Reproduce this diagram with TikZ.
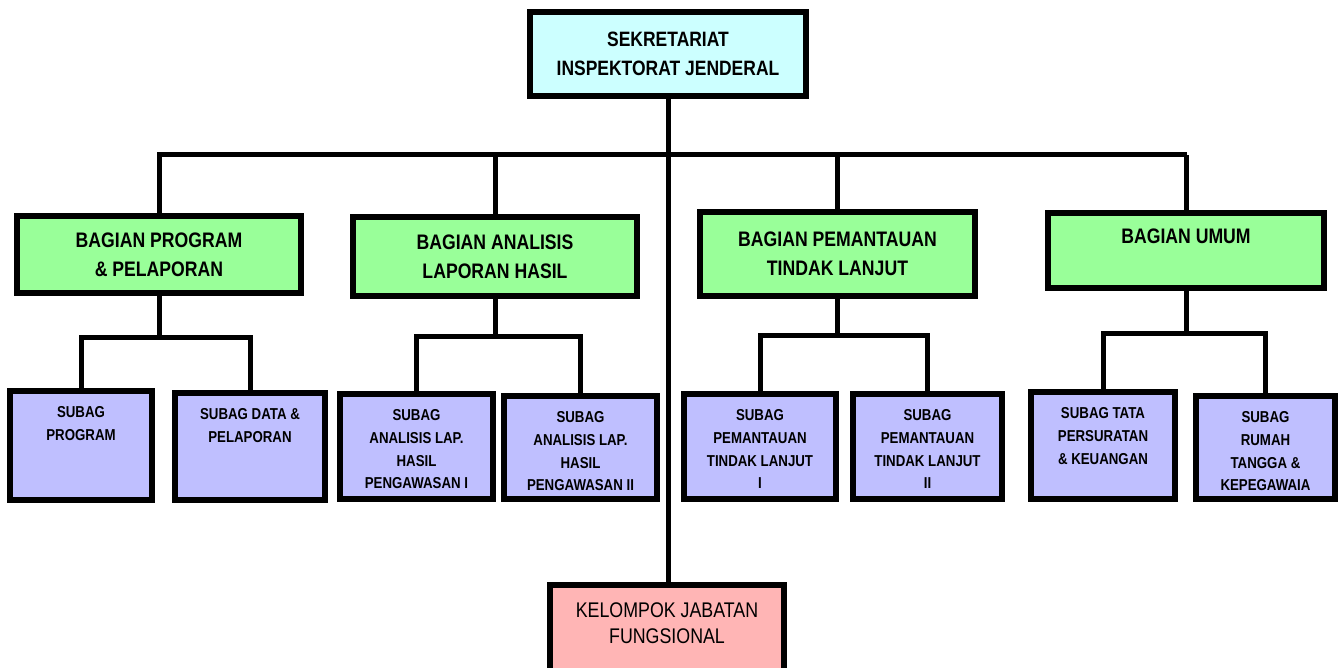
\documentclass[tikz,border=0pt]{standalone}
\usepackage{fontspec}
\setmainfont{Liberation Sans}[FakeStretch=0.84]
\usetikzlibrary{positioning}
\definecolor{topfill}{HTML}{CCFFFF}
\definecolor{bagfill}{HTML}{99FF99}
\definecolor{subfill}{HTML}{BFBFFF}
\definecolor{jabfill}{HTML}{FFB5B5}
\tikzset{
  topbox/.style = {rectangle, draw=black, fill=topfill, line width=3pt, align=center,
                   font=\fontsize{10.4}{14.5}\selectfont\bfseries, inner sep=0pt},
  bagbox/.style = {rectangle, draw=black, fill=bagfill, line width=3pt, align=center,
                   font=\fontsize{10.5}{14.5}\selectfont\bfseries, inner sep=0pt},
  subbox/.style = {rectangle, draw=black, fill=subfill, line width=3pt, inner sep=0pt},
  jabbox/.style = {rectangle, draw=black, fill=jabfill, line width=3pt, inner sep=0pt},
  subtxt/.style = {anchor=north, align=center, inner sep=0pt,
                   font=\fontsize{7.9}{11.4}\selectfont\bfseries},
  jabtxt/.style = {anchor=north, align=center, inner sep=0pt,
                   font=\fontsize{10.6}{13}\selectfont},
  wire/.style   = {line width=2.5pt, draw=black},
}
\begin{document}
\begin{tikzpicture}[x=0.5pt, y=-0.5pt]
    \useasboundingbox (0,0) rectangle (1343,668);
    \node[topbox, minimum width=138pt, minimum height=42pt] (sek) at (668,54) {SEKRETARIAT\\INSPEKTORAT JENDERAL};
    \node[jabbox, minimum width=117pt, minimum height=45pt] (jab) at (667,630) {};
    \node[jabtxt] (jabt) at ([yshift=-10pt]jab.north) {KELOMPOK JABATAN\\FUNGSIONAL};
    \draw[wire] (sek.south) -- (sek.south |- jab.north);
    \node[bagbox, minimum width=142pt,   minimum height=38.5pt] (g1) at (159,254.5)  {BAGIAN PROGRAM\\\& PELAPORAN};
    \node[bagbox, minimum width=142pt,   minimum height=39.5pt] (g2) at (495,256.5)  {BAGIAN ANALISIS\\LAPORAN HASIL};
    \node[bagbox, minimum width=137.5pt, minimum height=42pt]   (g3) at (837.5,254)  {BAGIAN PEMANTAUAN\\TINDAK LANJUT};
    \node[bagbox, minimum width=138pt,   minimum height=37.5pt] (g4) at (1186,250.5) {BAGIAN UMUM\\\phantom{X}};
    \coordinate (busL) at (157,155);
    \coordinate (busR) at (1187,155);
    \draw[wire] (busL) -- (busR);
    \foreach \g in {g1,g2,g3,g4}{\draw[wire] (\g.north) -- (\g.north |- busL);}
    \node[subbox, minimum width=71pt,   minimum height=54.5pt] (s1a) at (81,445.5)    {};
    \node[subbox, minimum width=75pt,   minimum height=53.5pt] (s1b) at (250,446.5)   {};
    \node[subbox, minimum width=76.5pt, minimum height=52.5pt] (s2a) at (416.5,446.5) {};
    \node[subbox, minimum width=76.5pt, minimum height=51.5pt] (s2b) at (580.5,447.5) {};
    \node[subbox, minimum width=76pt,   minimum height=52.5pt] (s3a) at (760,446.5)   {};
    \node[subbox, minimum width=74.5pt, minimum height=52.5pt] (s3b) at (927.5,446.5) {};
    \node[subbox, minimum width=72pt,   minimum height=53.5pt] (s4a) at (1103,445.5)  {};
    \node[subbox, minimum width=69.5pt, minimum height=51.5pt] (s4b) at (1265.5,447.5){};
    \node[subtxt] (t1a) at ([yshift=-9pt]s1a.north) {SUBAG\\PROGRAM};
    \node[subtxt] (t1b) at ([yshift=-9pt]s1b.north) {SUBAG DATA \&\\PELAPORAN};
    \node[subtxt] (t2a) at ([yshift=-9pt]s2a.north) {SUBAG\\ANALISIS LAP.\\HASIL\\PENGAWASAN I};
    \node[subtxt] (t2b) at ([yshift=-9pt]s2b.north) {SUBAG\\ANALISIS LAP.\\HASIL\\PENGAWASAN II};
    \node[subtxt] (t3a) at ([yshift=-9pt]s3a.north) {SUBAG\\PEMANTAUAN\\TINDAK LANJUT\\I};
    \node[subtxt] (t3b) at ([yshift=-9pt]s3b.north) {SUBAG\\PEMANTAUAN\\TINDAK LANJUT\\II};
    \node[subtxt] (t4a) at ([yshift=-9pt]s4a.north) {SUBAG TATA\\PERSURATAN\\\& KEUANGAN};
    \node[subtxt] (t4b) at ([yshift=-9pt]s4b.north) {SUBAG\\RUMAH\\TANGGA \&\\KEPEGAWAIA};
    \foreach \g/\a/\b/\y in {g1/s1a/s1b/337, g2/s2a/s2b/336, g3/s3a/s3b/335, g4/s4a/s4b/333}{
        \draw[wire] (\g.south) -- (\g.south |- 0,\y);
        \draw[wire] (\a.north) -- (\a.north |- 0,\y) -- (\b.north |- 0,\y) -- (\b.north);
    }
\end{tikzpicture}
\end{document}
